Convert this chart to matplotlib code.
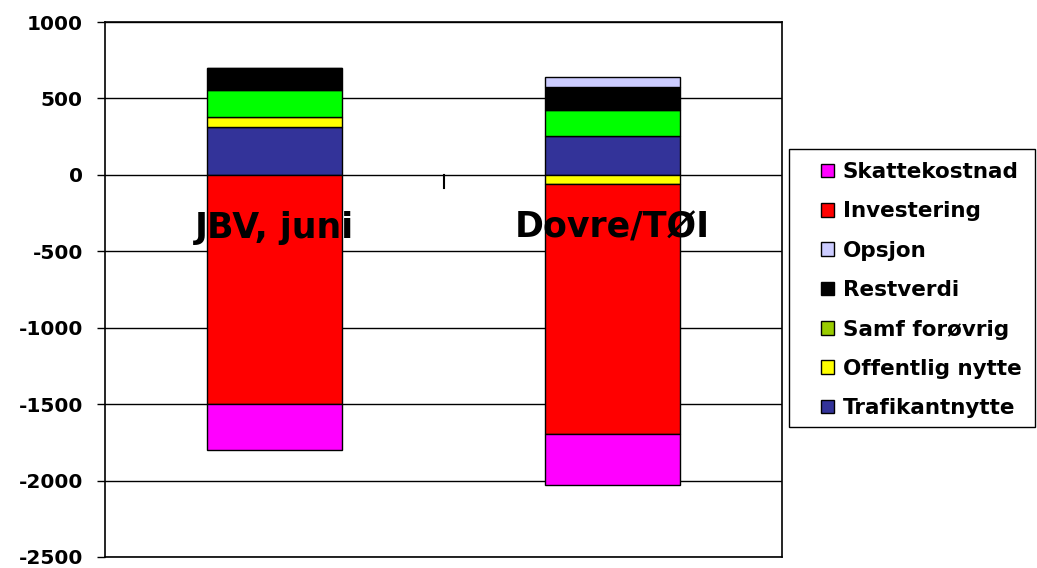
import matplotlib
matplotlib.use("Agg")
import matplotlib.pyplot as plt
from matplotlib.patches import Patch, Rectangle
import numpy as np

categories = ["JBV, juni", "Dovre/TØI"]
series_names = ["Trafikantnytte", "Offentlig nytte", "Samf forøvrig", "Restverdi",
                "Opsjon", "Investering", "Skattekostnad"]
trafikantnytte = [312, 256]
offentlig_nytte = [65, -60]
samf_forovrig = [175, 171]
restverdi = [148, 151]
opsjon = [0, 65]
investering = [-1500, -1635]
skattekostnad = [-300, -337]
y_ticks = [1000, 500, 0, -500, -1000, -1500, -2000, -2500]

series_values = [trafikantnytte, offentlig_nytte, samf_forovrig, restverdi,
                 opsjon, investering, skattekostnad]
bar_colors = ["#333399", "#FFFF00", "#00FF00", "#000000", "#CCCCFF", "#FF0000", "#FF00FF"]
legend_colors = ["#333399", "#FFFF00", "#99CC00", "#000000", "#CCCCFF", "#FF0000", "#FF00FF"]

plt.rcParams['font.family'] = ['DejaVu Sans']
plt.rcParams['font.weight'] = 'bold'

W, H = 1037, 568
fig = plt.figure(figsize=(W/100, H/100), dpi=100)
ax = fig.add_axes([105/W, 1-557/H, (782-105)/W, (557-22)/H])

x = np.arange(len(categories))
pos_bottom = np.zeros(len(categories))
neg_bottom = np.zeros(len(categories))
for name, vals, col in zip(series_names, series_values, bar_colors):
    vals = np.array(vals, dtype=float)
    bottoms = np.where(vals >= 0, pos_bottom, neg_bottom)
    ax.bar(x, vals, width=0.4, bottom=bottoms, color=col, edgecolor="black",
           linewidth=1.0, zorder=3)
    pos_bottom = pos_bottom + np.where(vals >= 0, vals, 0)
    neg_bottom = neg_bottom + np.where(vals < 0, vals, 0)

ax.set_xlim(-0.5, 1.5)
ax.set_ylim(min(y_ticks), max(y_ticks))
ax.set_yticks(y_ticks)
ax.set_yticklabels([str(t) for t in y_ticks], fontsize=14.5, fontweight='bold')
ax.yaxis.grid(True, color="black", linewidth=1.0, zorder=1)
ax.tick_params(axis='y', length=6, width=1, direction='out', pad=10)
ax.set_xticks([])
for s in ax.spines.values():
    s.set_color("black")
    s.set_linewidth(1.2)

# category axis at zero with middle tick mark
ax.plot([0.5, 0.5], [0, -85], color="black", linewidth=1.5, zorder=4, clip_on=False)

for xi, cat in zip(x, categories):
    ax.text(xi, -345, cat, ha='center', va='center', fontsize=25,
            fontweight='bold', zorder=5)

handles = [Patch(facecolor=c, edgecolor="black", linewidth=1.0) for c in legend_colors]
order = list(range(len(series_names)))[::-1]
leg = fig.legend([handles[i] for i in order], [series_names[i] for i in order],
                 loc='upper left', bbox_to_anchor=(821/W, 1-162/H),
                 fontsize=15.5, frameon=False,
                 handlelength=0.6, handleheight=0.6, handletextpad=0.4,
                 labelspacing=0.9, borderpad=0, borderaxespad=0)
fig.patches.append(Rectangle((789/W, 1-427/H), (1035-789)/W, (427-149)/H,
                             transform=fig.transFigure, fill=False,
                             edgecolor="black", linewidth=1.0))

fig.savefig("out.png", dpi=100)
